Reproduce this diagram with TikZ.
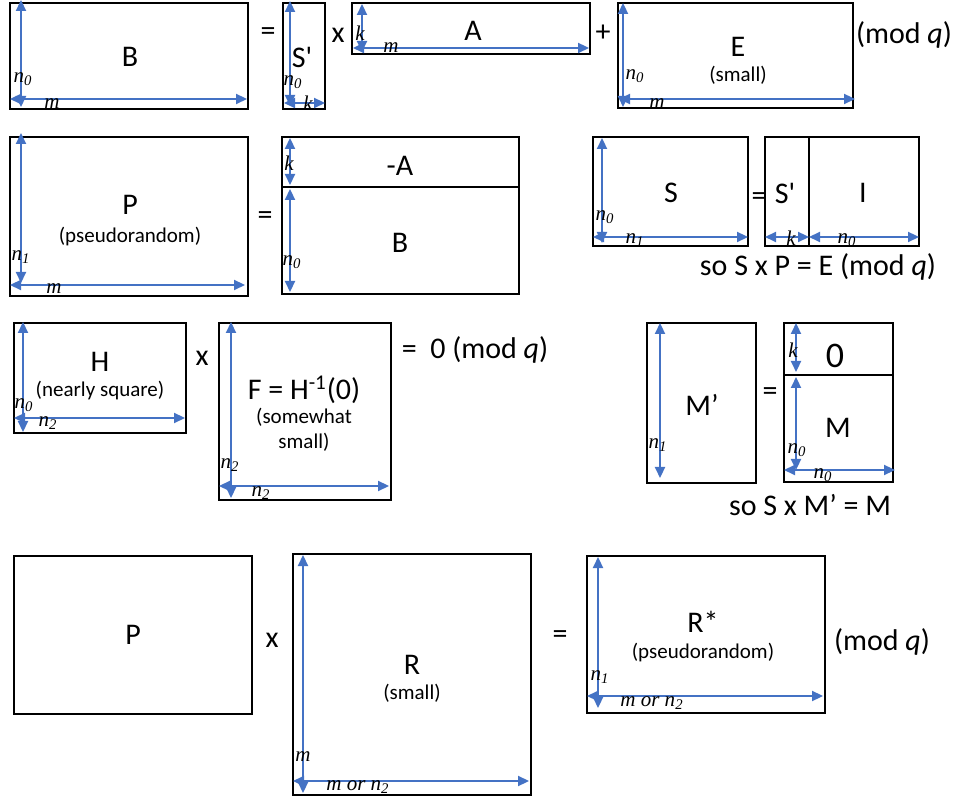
\documentclass[tikz,border=0pt]{standalone}
\usepackage{fontspec}
\setmainfont{Carlito}
\newfontfamily\lblfont{Liberation Serif}
\usetikzlibrary{arrows.meta}
\definecolor{dimblue}{HTML}{4472C4}
\tikzset{
  box/.style={draw=black, line width=1pt},
  dim/.style={draw=dimblue, line width=1.1pt, {Triangle[length=5.5pt,width=5pt]}-{Triangle[length=5.5pt,width=5pt]}},
  big/.style={font=\fontsize{15}{18}\selectfont, inner sep=0pt},
  huge0/.style={font=\fontsize{18}{21}\selectfont, inner sep=0pt},
  sub/.style={font=\fontsize{10.5}{12.5}\selectfont, inner sep=0pt, align=center},
  lab/.style={font=\lblfont\itshape\fontsize{10.5}{12}\selectfont, inner sep=0pt},
}
\newcommand\dimline[3]{\coordinate (#1-a) at (#2); \coordinate (#1-b) at (#3); \draw[dim] (#1-a) -- (#1-b);}
\newcommand\matrect[3]{\coordinate (#1-nw) at (#2); \coordinate (#1-se) at (#3); \draw[box] (#1-nw) rectangle (#1-se);}
\begin{document}
\begin{tikzpicture}[x=0.5pt,y=-0.5pt]
\useasboundingbox (0,0) rectangle (963,801);
% ---------- Row 1 ----------
\matrect{Bb}{10,3}{248,109}
\dimline{Bv}{21,0}{21,107}
\dimline{Bh}{10,99}{247,99}
\node[big] (tB) at (130,57) {B};
\node[lab] (lBn) at (23,79) {n\textsubscript{0}};
\node[lab] (lBm) at (52,104) {m};
\node[big] (eq1) at (268,34) {=};
\matrect{Sp}{283,3}{325,109}
\dimline{Spv}{290,1}{290,106}
\dimline{Sph}{284,103}{325,103}
\node[big] (tSp) at (302,57) {S\textquotesingle};
\node[lab] (lSpn) at (293,82) {n\textsubscript{0}};
\node[lab] (lSpk) at (308,103) {k};
\node[big] (x1) at (338,35) {x};
\matrect{Ab}{352,3}{590,54}
\dimline{Av}{362,4}{362,52}
\dimline{Ah}{353,48}{589,48}
\node[big] (tA) at (473,31) {A};
\node[lab] (lAk) at (360,33) {k};
\node[lab] (lAm) at (391,48) {m};
\node[big] (pl1) at (603,33) {+};
\matrect{Eb}{618,3}{853,108}
\dimline{Ev}{623,3}{623,107}
\dimline{Eh}{619,99}{855,99}
\node[big] (tE) at (738,47) {E};
\node[sub] (sE) at (738,75) {(small)};
\node[lab] (lEn) at (635,76) {n\textsubscript{0}};
\node[lab] (lEm) at (657,104) {m};
\node[big] (mod1) at (904,35) {(mod \textit{q})};
% ---------- Row 2 ----------
\matrect{Pb}{10,137}{248,296}
\dimline{Pv}{21,133}{21,283}
\dimline{Ph}{10,285}{245,285}
\node[big] (tP) at (130,205) {P};
\node[sub] (sP) at (130,237) {(pseudorandom)};
\node[lab] (lPn) at (21,257) {n\textsubscript{1}};
\node[lab] (lPm) at (54,289) {m};
\node[big] (eq2) at (265,218) {=};
\matrect{ABb}{282,137}{519,294}
\draw[box] (282,187) -- (519,187);
\dimline{ABk}{290,138}{290,185}
\dimline{ABn}{290,189}{290,292}
\node[big] (tmA) at (400,166) {-A};
\node[big] (tB2) at (400,243) {B};
\node[lab] (lABk) at (289,163) {k};
\node[lab] (lABn) at (292,262) {n\textsubscript{0}};
\matrect{Sb}{593,137}{748,246}
\dimline{Sv}{602,138}{602,243}
\dimline{Sh}{593,237}{748,237}
\node[big] (tS) at (671,193) {S};
\node[lab] (lSn0) at (605,217) {n\textsubscript{0}};
\node[lab] (lSn1) at (635,240) {n\textsubscript{1}};
\node[big] (eq3) at (759,199) {=};
\matrect{SIb}{765,137}{919,246}
\draw[box] (809,137) -- (809,246);
\dimline{SIk}{765,237}{809,237}
\dimline{SIn}{809,237}{919,237}
\node[big] (tSp2) at (785,193) {S\textquotesingle};
\node[big] (tI) at (863,193) {I};
\node[lab] (lSIk) at (791,238) {k};
\node[lab] (lSIn) at (847,240) {n\textsubscript{0}};
\node[big] (so1) at (818,267) {so S x P = E (mod \textit{q})};
% ---------- Row 3 ----------
\matrect{Hb}{14,323}{186,433}
\dimline{Hv}{23,322}{23,432}
\dimline{Hh}{14,418}{185,418}
\node[big] (tH) at (100,362) {H};
\node[sub] (sH) at (100,391) {(nearly square)};
\node[lab] (lHn0) at (24,405) {n\textsubscript{0}};
\node[lab] (lHn2) at (48,423) {n\textsubscript{2}};
\node[big] (x2) at (202,358) {x};
\matrect{Fb}{219,323}{391,500}
\dimline{Fv}{231,322}{231,498}
\dimline{Fh}{219,486}{389,486}
\node[big] (tF) at (304,390) {F = H\textsuperscript{-1}(0)};
\node[sub] (sF) at (304,430) {(somewhat\\small)};
\node[lab] (lFn2a) at (230,465) {n\textsubscript{2}};
\node[lab] (lFn2b) at (261,493) {n\textsubscript{2}};
\node[big] (zero1) at (475,350) {=\ \ 0 (mod \textit{q})};
\matrect{Mpb}{647,323}{756,483}
\dimline{Mpv}{660,323}{660,478}
\node[big] (tMp) at (702,405) {M’};
\node[lab] (lMpn) at (658,445) {n\textsubscript{1}};
\node[big] (eq4) at (770,394) {=};
\matrect{Mb}{784,323}{893,482}
\draw[box] (784,375) -- (893,375);
\dimline{Mk}{796,323}{796,372}
\dimline{Mn}{796,377}{796,470}
\dimline{Mh}{784,470}{895,470}
\node[huge0] (t0) at (835,356) {0};
\node[big] (tM) at (838,428) {M};
\node[lab] (lMk) at (793,350) {k};
\node[lab] (lMn0a) at (797,450) {n\textsubscript{0}};
\node[lab] (lMn0b) at (823,475) {n\textsubscript{0}};
\node[big] (so2) at (810,505) {so S x M’ = M};
% ---------- Row 4 ----------
\matrect{P2b}{14,556}{252,714}
\node[big] (tP2) at (133,635) {P};
\node[big] (x3) at (272,640) {x};
\matrect{Rb}{293,554}{531,795}
\dimline{Rv}{303,555}{303,793}
\dimline{Rh}{293,781}{529,781}
\node[big] (tR) at (412,665) {R};
\node[sub] (sR) at (412,693) {(small)};
\node[lab] (lRm) at (303,757) {m};
\node[lab] (lRmn) at (358,787) {m or n\textsubscript{2}};
\node[big] (eq5) at (560,637) {=};
\matrect{RSb}{587,556}{825,713}
\dimline{RSv}{598,557}{598,708}
\dimline{RSh}{587,696}{823,696}
\node[big] (tRS) at (703,622) {R*};
\node[sub] (sRS) at (703,653) {(pseudorandom)};
\node[lab] (lRSn) at (600,677) {n\textsubscript{1}};
\node[lab] (lRSmn) at (652,703) {m or n\textsubscript{2}};
\node[big] (mod2) at (882,642) {(mod \textit{q})};
\end{tikzpicture}
\end{document}
